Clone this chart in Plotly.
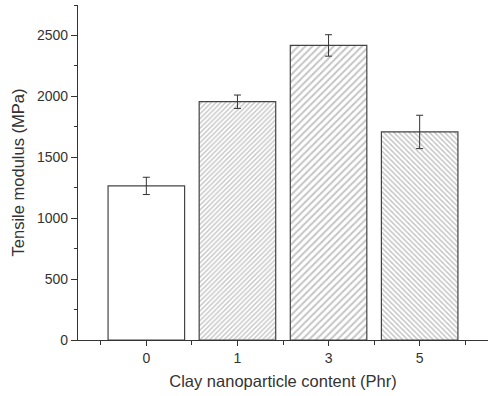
import plotly.graph_objects as go

categories = ["0", "1", "3", "5"]
modulus = [1265, 1956, 2418, 1708]
errors = [71, 55, 88, 137]
hatch_shapes = ["", "/", "/", "\\"]
hatch_sizes = [4, 3.4, 5, 3.6]

x_pos = list(range(len(categories)))

fig = go.Figure()
for i in range(len(categories)):
    fig.add_trace(go.Bar(
        x=[x_pos[i]],
        y=[modulus[i]],
        width=0.84,
        marker=dict(
            color="white",
            line=dict(color="#444444", width=1.2),
            pattern=dict(shape=hatch_shapes[i], size=hatch_sizes[i], solidity=0.4,
                         fgcolor="#8a8a8a", bgcolor="white", fillmode="overlay"),
        ),
        error_y=dict(type="data", array=[errors[i]], visible=True, color="#333333",
                     thickness=1, width=3.5),
        showlegend=False,
    ))

font_family = "Liberation Sans, Arial, sans-serif"
fig.update_layout(
    width=488, height=396,
    margin=dict(l=78, r=0, t=5, b=56),
    paper_bgcolor="white", plot_bgcolor="white",
    font=dict(family=font_family, color="#333333", size=14),
    barmode="overlay",
)
fig.update_xaxes(
    range=[-0.75, 3.75],
    tickmode="array", tickvals=x_pos, ticktext=categories,
    ticks="outside", ticklen=5, tickwidth=1, tickcolor="#333333",
    minor=dict(tickmode="array", tickvals=[-0.5, 0.5, 1.5, 2.5, 3.5],
               ticks="outside", ticklen=4, tickwidth=1, tickcolor="#333333"),
    showline=True, linecolor="#333333", linewidth=1.2,
    showgrid=False, zeroline=False,
    title=dict(text="Clay nanoparticle content (Phr)", font=dict(size=16.5), standoff=10),
    tickfont=dict(size=14),
)
fig.update_yaxes(
    range=[0, 2750],
    tickmode="linear", tick0=0, dtick=500,
    ticks="outside", ticklen=6, tickwidth=1, tickcolor="#333333",
    minor=dict(dtick=250, ticks="outside", ticklen=3, tickwidth=1, tickcolor="#333333"),
    showline=True, linecolor="#333333", linewidth=1.2,
    showgrid=False, zeroline=False,
    title=dict(text="Tensile modulus (MPa)", font=dict(size=16.5), standoff=8),
    tickfont=dict(size=14),
)

fig.write_html("out.html", config={"displayModeBar": False},
               post_script="document.body.style.margin='0';")
